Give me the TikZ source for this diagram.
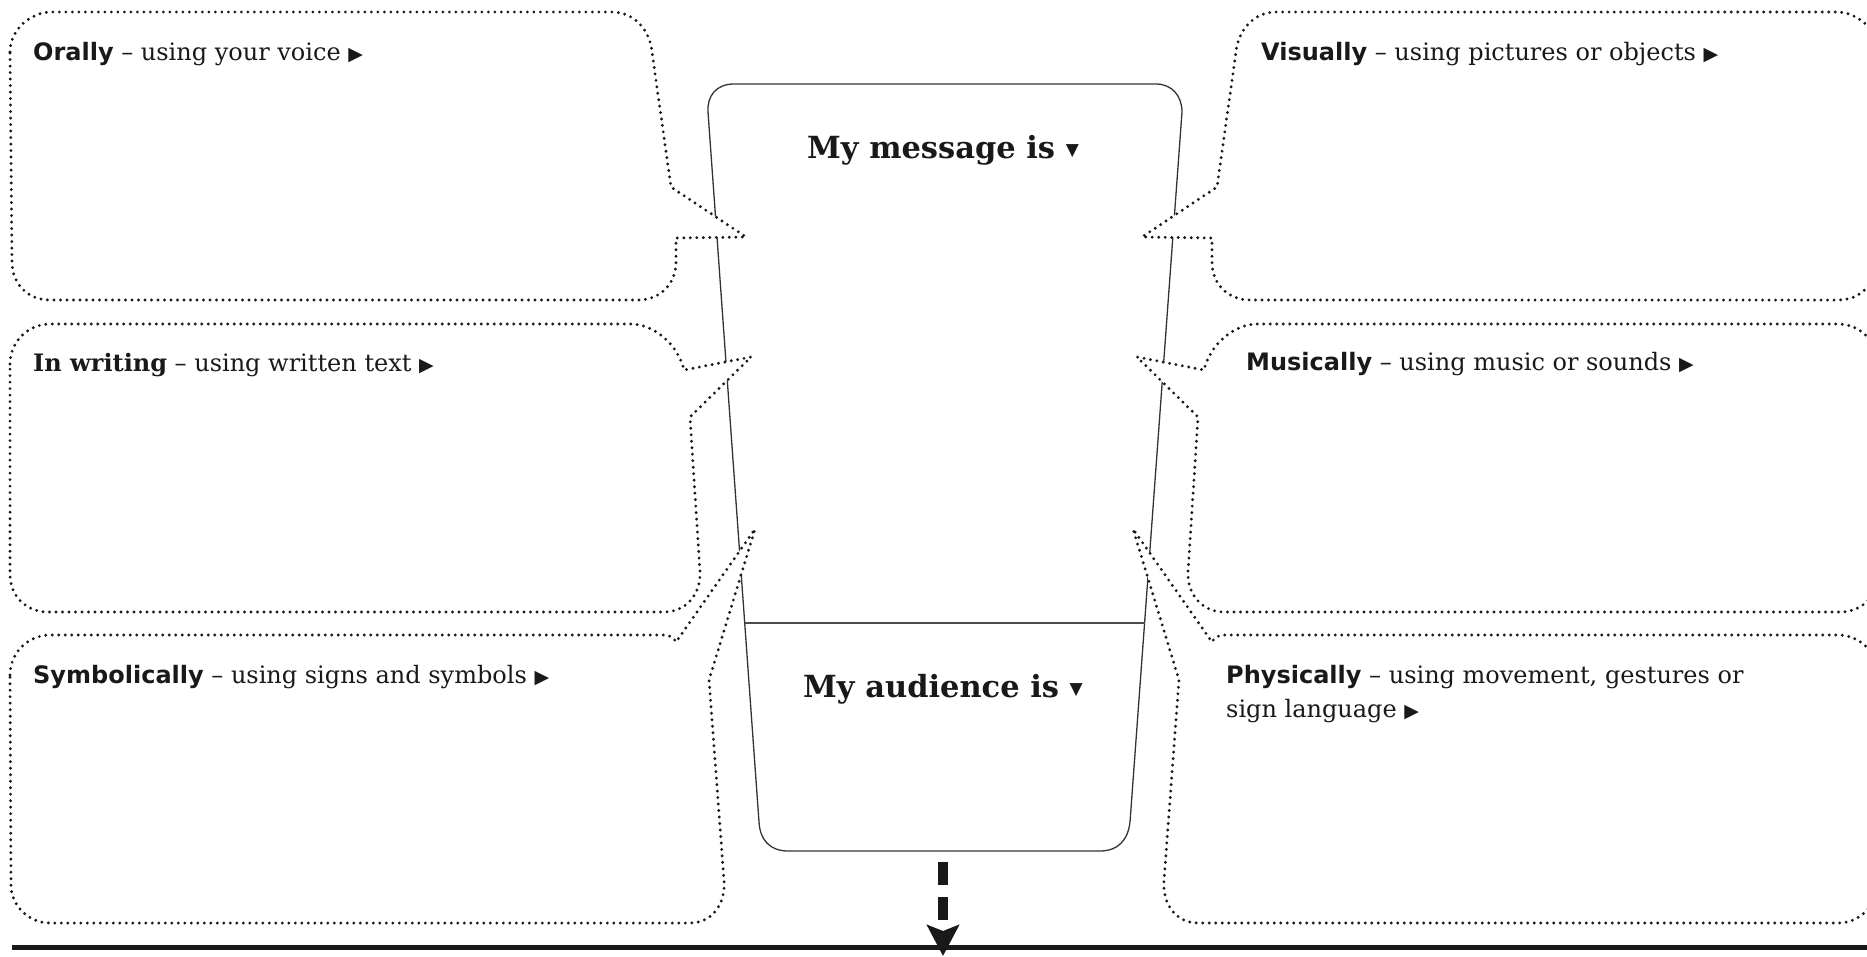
\documentclass[tikz,border=0pt]{standalone}
\usepackage{fontspec}
\setmainfont{DejaVu Serif}
\newfontfamily\waysans{DejaVu Sans}
\newfontfamily\symfont{DejaVu Sans}
\usetikzlibrary{arrows.meta}

\newcommand{\rtri}{{\symfont\fontsize{19}{19}\selectfont ▶}}
\newcommand{\dtri}{\raisebox{3pt}{\symfont\fontsize{17}{17}\selectfont ▼}}
\newcommand{\way}[1]{{\waysans\bfseries #1}}

\tikzset{
  bubble/.style={draw=black!90, fill=white, line width=3.2pt, line cap=round, dash pattern=on 0pt off 6.5pt},
  cupline/.style={draw=black!80, line width=1.3pt},
  waytext/.style={anchor=base west, inner sep=0pt, align=left, text=black!90, font=\fontsize{24}{34}\selectfont},
  headtext/.style={anchor=base, inner sep=0pt, text=black!90, font=\fontsize{30.5}{34}\selectfont\bfseries}
}

\begin{document}
\begin{tikzpicture}[x=1pt, y=-1pt]
    \useasboundingbox (0,0) rectangle (1867,956);
    \clip (0,0) rectangle (1867,956);

    % Message / audience cup
    \draw[cupline, fill=white] (708,112) .. controls (707,96) and (716,84) .. (734,84) -- (1156,84) .. controls (1172,84) and (1182,96) .. (1182,112) -- (1130,822) .. controls (1128,840) and (1118,851) .. (1100,851) -- (788,851) .. controls (770,851) and (760,840) .. (759,822) -- cycle;
    \draw[cupline, line width=1.8pt, draw=black!70] (745,623) -- (1145,623);

    % Speech bubbles, left side
    \draw[bubble] (10,52) .. controls (10,30) and (30,12) .. (52,12) -- (612,12) .. controls (634,12) and (650,30) .. (652,52) -- (671,187) -- (746,237) -- (676,238) -- (676,262) .. controls (676,284) and (660,300) .. (638,300) -- (50,300) .. controls (28,300) and (12,284) .. (12,262) -- cycle;
    \draw[bubble] (10,364) .. controls (10,342) and (28,324) .. (50,324) -- (630,324) .. controls (655,324) and (678,345) .. (684,370) -- (751,357) -- (690,417) -- (700,572) .. controls (701,594) and (686,612) .. (664,612) -- (48,612) .. controls (26,612) and (10,596) .. (10,574) -- cycle;
    \draw[bubble] (10,675) .. controls (10,653) and (28,635) .. (50,635) -- (664,635) .. controls (670,635) and (674,638) .. (676,642) -- (755,529) -- (709,680) -- (724,880) .. controls (726,904) and (712,923) .. (690,923) -- (50,923) .. controls (28,923) and (11,905) .. (11,885) -- cycle;

    % Speech bubbles, right side
    \draw[bubble] (1878,52) .. controls (1878,30) and (1858,12) .. (1836,12) -- (1276,12) .. controls (1254,12) and (1238,30) .. (1236,52) -- (1217,187) -- (1142,237) -- (1212,238) -- (1212,262) .. controls (1212,284) and (1228,300) .. (1250,300) -- (1838,300) .. controls (1860,300) and (1876,284) .. (1876,262) -- cycle;
    \draw[bubble] (1878,364) .. controls (1878,342) and (1860,324) .. (1838,324) -- (1258,324) .. controls (1233,324) and (1210,345) .. (1204,370) -- (1137,357) -- (1198,417) -- (1188,572) .. controls (1187,594) and (1202,612) .. (1224,612) -- (1840,612) .. controls (1862,612) and (1878,596) .. (1878,574) -- cycle;
    \draw[bubble] (1878,675) .. controls (1878,653) and (1860,635) .. (1838,635) -- (1224,635) .. controls (1218,635) and (1214,638) .. (1212,642) -- (1133,529) -- (1179,680) -- (1164,880) .. controls (1162,904) and (1176,923) .. (1198,923) -- (1838,923) .. controls (1860,923) and (1877,905) .. (1877,885) -- cycle;

    % Texts
    \node[headtext] (message) at (943,158) {My message is \dtri};
    \node[headtext] (audience) at (943,697) {My audience is \dtri};
    \node[waytext] (orally) at (33,60) {\way{Orally} – using your voice \rtri};
    \node[waytext] (inwriting) at (33,371) {\textbf{In writing} – using written text \rtri};
    \node[waytext] (symbolically) at (33,683) {\way{Symbolically} – using signs and symbols \rtri};
    \node[waytext] (visually) at (1261,60) {\way{Visually} – using pictures or objects \rtri};
    \node[waytext] (musically) at (1246,370) {\way{Musically} – using music or sounds \rtri};
    \node[waytext] (physically) at (1226,717) {\way{Physically} – using movement, gestures or\\sign language \rtri};

    % Arrow down to the rule
    \coordinate (arrowtop) at (943,862);
    \coordinate (arrowtip) at (943,956);
    \draw[line width=5pt, draw=black!90] (12,947) -- (1867,947);
    \draw[line width=10pt, draw=black!90, dash pattern=on 23pt off 12pt, -{Stealth[length=31pt, width=32pt, inset=6pt]}] (arrowtop) -- (arrowtip);
\end{tikzpicture}
\end{document}
